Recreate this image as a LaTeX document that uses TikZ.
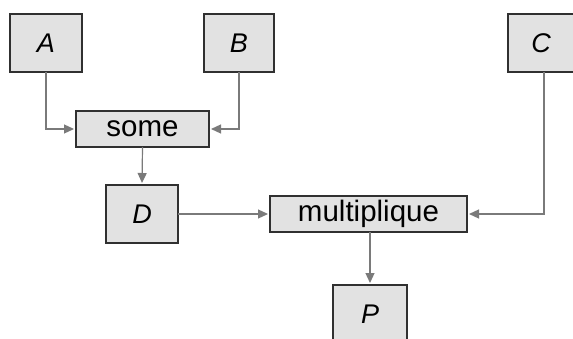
\documentclass[tikz,border=0pt]{standalone}
\usepackage{fontspec}
\setmainfont{Liberation Sans}
\usetikzlibrary{arrows.meta}
\definecolor{boxfill}{HTML}{E2E2E2}
\definecolor{boxdraw}{HTML}{303030}
\definecolor{wire}{HTML}{7A7A7A}
\begin{document}
\begin{tikzpicture}[x=1pt,y=1pt,
  box/.style={draw=boxdraw,line width=1.4pt,fill=boxfill,inner sep=0pt,outer sep=0pt},
  letterbox/.style={box,font=\fontsize{27}{29}\selectfont\itshape},
  wordbox/.style={box,font=\fontsize{29.5}{31}\selectfont},
  conn/.style={draw=wire,line width=1.2pt,-{Triangle[length=10pt,width=9pt]},shorten >=2pt}]
\useasboundingbox (0,0) rectangle (573,338);
\clip (0,0) rectangle (573,338);
\fill[white] (0,0) rectangle (573,338);
\node[letterbox,minimum width=72pt,minimum height=58pt] (A) at (46,295) {A};
\node[letterbox,minimum width=70pt,minimum height=58pt] (B) at (239,295) {B};
\node[letterbox,minimum width=66pt,minimum height=58pt] (C) at (541,295) {C};
\node[wordbox,minimum width=133pt,minimum height=36pt] (some) at (142.5,209) {some};
\node[letterbox,minimum width=72pt,minimum height=58pt] (D) at (142,124) {D};
\node[wordbox,minimum width=197pt,minimum height=36pt] (mult) at (368.5,124) {multiplique};
\node[letterbox,minimum width=74pt,minimum height=58pt] (P) at (370,24) {P};
\draw[conn] (A.south) |- (some.west);
\draw[conn] (B.south) |- (some.east);
\draw[conn] (some.south) -- (D.north);
\draw[conn] (D.east) -- (mult.west);
\draw[conn] ([xshift=3pt]C.south) |- (mult.east);
\draw[conn] (mult.south -| P.north) -- (P.north);
\end{tikzpicture}
\end{document}
